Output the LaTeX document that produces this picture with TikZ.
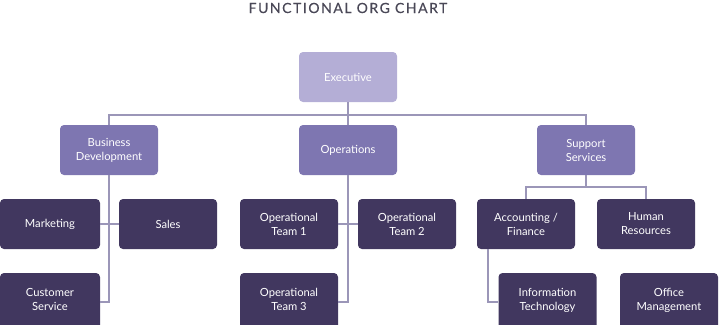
\documentclass[tikz,border=0pt]{standalone}
\usepackage{fontspec}
\setmainfont{Lato}
\definecolor{execfill}{HTML}{B4AED6}
\definecolor{midfill}{HTML}{7E76B1}
\definecolor{darkfill}{HTML}{41375F}
\definecolor{linec}{HTML}{9B96B8}
\definecolor{titlec}{HTML}{4A4857}
\tikzset{
  box/.style={rounded corners=4pt, minimum width=98pt, minimum height=50pt, inner sep=1pt,
    text=white, align=center, font=\fontsize{11.2}{14}\selectfont},
  execbox/.style={box, fill=execfill},
  midbox/.style={box, fill=midfill},
  darkbox/.style={box, fill=darkfill},
  lowbox/.style={box, fill=darkfill, minimum height=56pt, text depth=4pt},
  conn/.style={draw=linec, line width=1.5pt}
}
\begin{document}
\begin{tikzpicture}[x=1pt,y=-1pt]
\useasboundingbox (0,0) rectangle (720,324);
\node[font=\fontsize{14}{15}\selectfont\addfontfeature{LetterSpace=11,FakeBold=0.4}, text=titlec] (title) at (348,8) {FUNCTIONAL ORG CHART};
\node[execbox] (exec) at (348,77) {Executive};
\node[midbox] (bd) at (109,150) {Business\\Development};
\node[midbox] (ops) at (348,150) {Operations};
\node[midbox] (ss) at (586,150) {Support\\Services};
\node[darkbox, minimum width=100pt] (mkt) at (50,224) {Marketing};
\node[darkbox] (sales) at (168,224) {Sales};
\node[darkbox] (ot1) at (289,224) {Operational\\Team 1};
\node[darkbox] (ot2) at (407,224) {Operational\\Team 2};
\node[darkbox] (af) at (526,224) {Accounting /\\Finance};
\node[darkbox] (hr) at (646,224) {Human\\Resources};
\node[lowbox, minimum width=100pt] (cs) at (50,301) {Customer\\Service};
\node[lowbox] (ot3) at (289,301) {Operational\\Team 3};
\node[lowbox] (it) at (547.5,301) {Information\\Technology};
\node[lowbox] (om) at (669,301) {Office\\Management};
\draw[conn] (exec.south) -- ++(0,13) coordinate (bus);
\draw[conn] (bd.north) |- (bus) -| (ss.north);
\draw[conn] (bus) -- (ops.north);
\draw[conn] (bd.south) |- ([yshift=-1pt]cs.east);
\draw[conn] (mkt.east) -- (sales.west);
\draw[conn] (ops.south) |- ([yshift=-1pt]ot3.east);
\draw[conn] (ot1.east) -- (ot2.west);
\draw[conn] (ss.south) -- ++(0,12) coordinate (sbus);
\draw[conn] (af.north) |- (sbus) -| (hr.north);
\draw[conn] ([xshift=-38pt]af.south) |- ([yshift=-1pt]it.west);
\end{tikzpicture}
\end{document}
